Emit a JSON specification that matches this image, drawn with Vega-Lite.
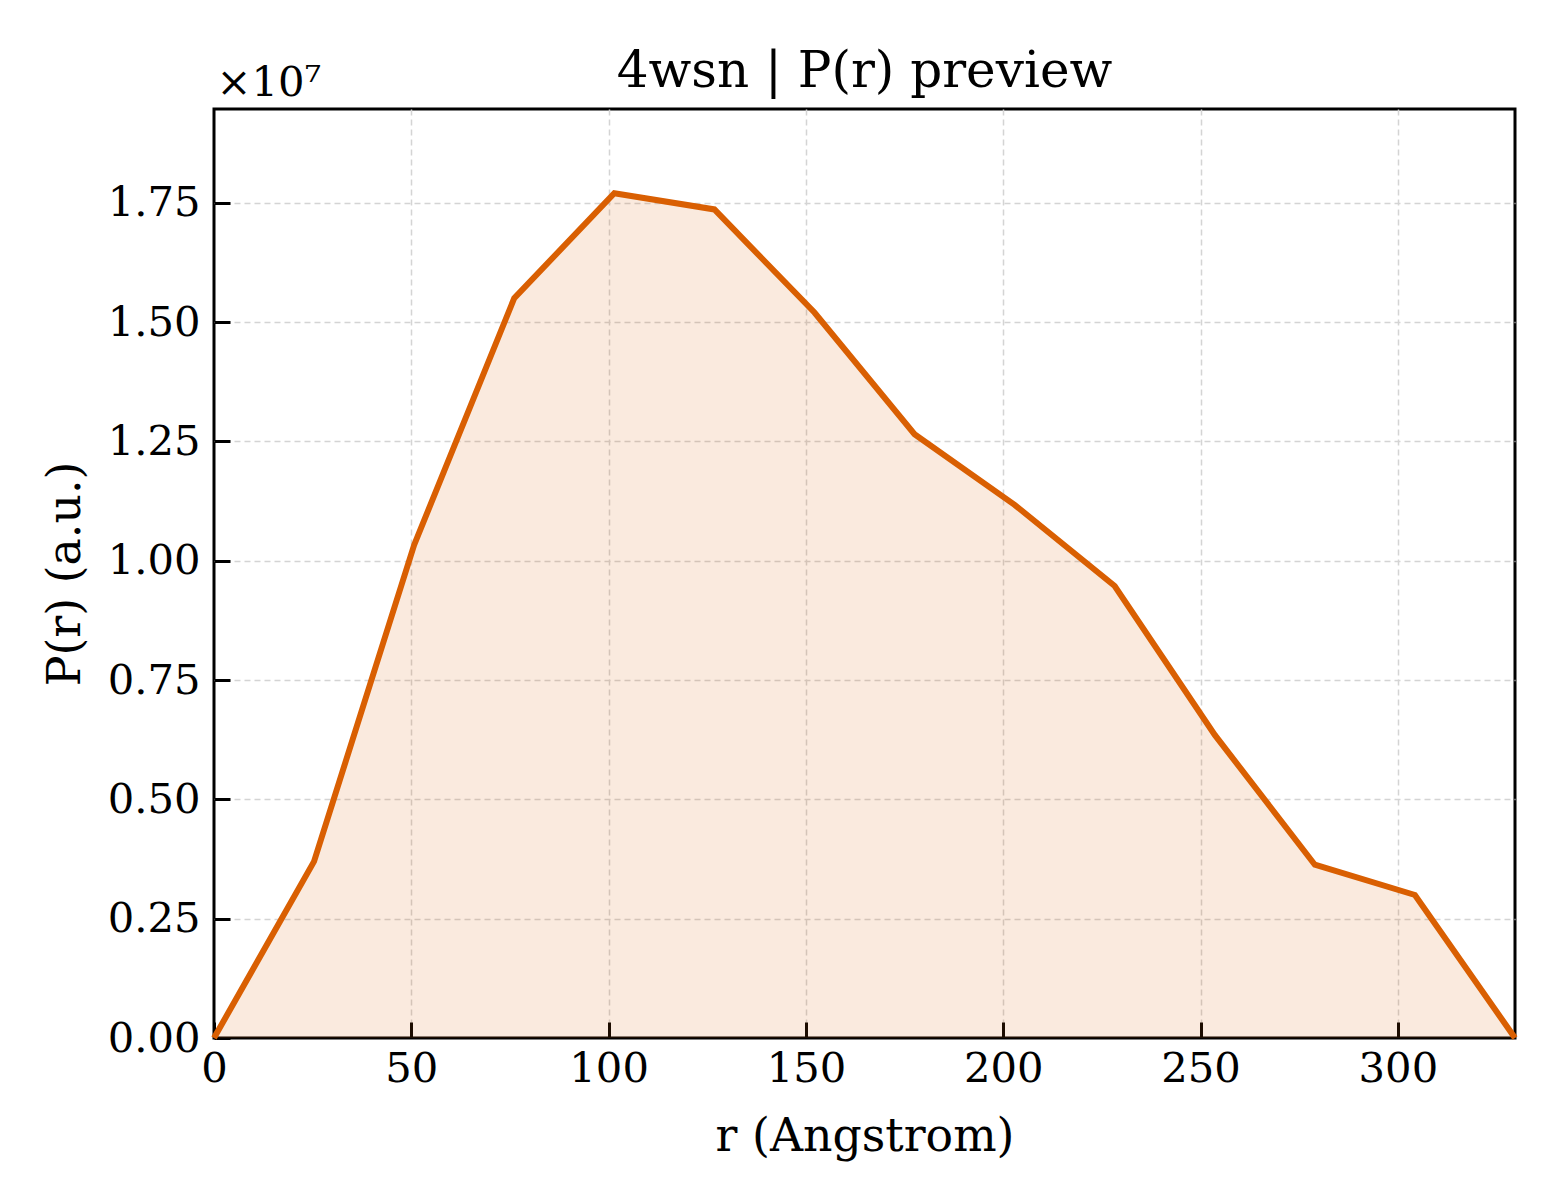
{
  "$schema": "https://vega.github.io/schema/vega-lite/v6.json",
  "width": 1301,
  "height": 929,
  "autosize": {"type": "none"},
  "padding": {"left": 214, "top": 109, "right": 45, "bottom": 162},
  "background": "white",
  "title": {
    "text": "4wsn | P(r) preview",
    "font": "DejaVu Serif",
    "fontSize": 50,
    "fontWeight": "normal",
    "color": "black",
    "anchor": "middle",
    "offset": -35
  },
  "data": {
    "values": [
      {"r": 0.0, "pr": 0},
      {"r": 25.36, "pr": 3700000},
      {"r": 50.72, "pr": 10330000},
      {"r": 76.08, "pr": 15500000},
      {"r": 101.44, "pr": 17700000},
      {"r": 126.8, "pr": 17360000},
      {"r": 152.16, "pr": 15200000},
      {"r": 177.52, "pr": 12650000},
      {"r": 202.88, "pr": 11170000},
      {"r": 228.24, "pr": 9470000},
      {"r": 253.6, "pr": 6350000},
      {"r": 278.96, "pr": 3630000},
      {"r": 304.32, "pr": 2996000},
      {"r": 329.68, "pr": 0}
    ]
  },
  "encoding": {
    "y": {
      "field": "pr",
      "type": "quantitative",
      "scale": {"domain": [0, 19464000], "nice": false, "zero": false},
      "axis": {
        "title": "P(r) (a.u.)",
        "values": [0, 2500000, 5000000, 7500000, 10000000, 12500000, 15000000, 17500000],
        "labelExpr": "format(datum.value / 1e7, '.2f')",
        "labelPadding": 30,
        "titlePadding": 18,
        "gridOpacity": {"condition": {"test": "datum.value === 0", "value": 0}, "value": 1}
      }
    }
  },
  "layer": [
    {
      "mark": {"type": "area", "color": "#D55E00", "opacity": 0.13},
      "encoding": {
        "x": {
          "field": "r",
          "type": "quantitative",
          "scale": {"domain": [0, 329.68], "nice": false, "zero": false},
          "axis": {
            "title": "r (Angstrom)",
            "values": [0, 50, 100, 150, 200, 250, 300],
            "format": "d",
            "labelPadding": 26,
            "titlePadding": 25,
            "gridOpacity": {"condition": {"test": "datum.value === 0", "value": 0}, "value": 1}
          }
        }
      }
    },
    {
      "mark": {"type": "line", "color": "#D95F02", "strokeWidth": 6},
      "encoding": {
        "x": {
          "field": "r",
          "type": "quantitative",
          "axis": {
            "orient": "top",
            "title": "×10⁷",
            "labels": false,
            "ticks": false,
            "grid": false,
            "domain": false,
            "titleAnchor": "start",
            "titleAlign": "left",
            "titleX": 2,
            "titleY": -14,
            "titleBaseline": "alphabetic",
            "titleFontSize": 41.7
          }
        }
      }
    }
  ],
  "resolve": {"axis": {"x": "independent"}},
  "config": {
    "font": "DejaVu Serif",
    "view": {"stroke": "black", "strokeWidth": 3},
    "axis": {
      "domain": false,
      "grid": true,
      "gridColor": "#d4d4d4",
      "gridDash": [6, 4],
      "gridWidth": 1.5,
      "ticks": true,
      "tickColor": "black",
      "tickSize": -16,
      "tickWidth": 3,
      "labelFont": "DejaVu Serif",
      "labelFontSize": 41.7,
      "labelColor": "black",
      "titleFont": "DejaVu Serif",
      "titleFontSize": 45.8,
      "titleFontWeight": "normal",
      "titleColor": "black",
      "labelFlush": false
    }
  }
}
